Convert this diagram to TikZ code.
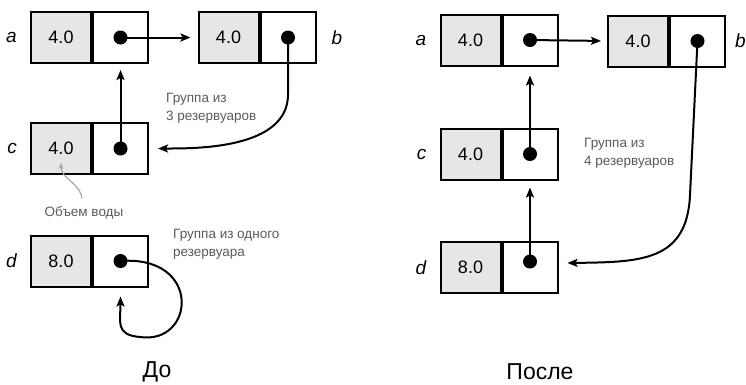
\documentclass[tikz,border=0pt]{standalone}
\usepackage{fontspec}
\setmainfont{Liberation Sans}
\usetikzlibrary{arrows.meta,positioning}
\definecolor{notegray}{HTML}{5A5A5A}
\definecolor{cellgray}{HTML}{E6E6E6}
\tikzset{
  cell/.style    = {draw, line width=2pt, minimum height=51pt, inner sep=0pt},
  valbox/.style  = {cell, fill=cellgray, minimum width=60pt,
                    font=\fontsize{18}{20}\selectfont},
  ptrbox/.style  = {cell, fill=white, minimum width=55pt},
  ptrdot/.style  = {circle, fill=black, inner sep=0pt, minimum size=14pt},
  tag/.style     = {font=\itshape\fontsize{19}{22}\selectfont, inner sep=0pt},
  note/.style    = {text=notegray, align=left, inner sep=0pt,
                    font=\fontsize{13.5}{18}\selectfont},
  caption/.style = {font=\fontsize{23}{26}\selectfont},
  link/.style    = {->, line width=2pt}
}

\begin{document}
\begin{tikzpicture}[x=1pt, y=-1pt,
  >={Stealth[length=10pt, width=8pt, inset=2pt]}]
\useasboundingbox (0,0) rectangle (746,384);

% before: four tanks
\node[valbox] (av1) at (61,37.5)  {4.0};
\node[valbox] (bv1) at (228.5,37.5) {4.0};
\node[valbox] (cv1) at (61,148.5) {4.0};
\node[valbox] (dv1) at (61,261)   {8.0};
\foreach \t in {a,b,c,d}
  \node[ptrbox, right=0pt of \t v1] (\t p1) {};

\node[tag, left=13pt of av1]  {a};
\node[tag, right=15pt of bp1] {b};
\node[tag, left=13pt of cv1]  {c};
\node[tag, left=13pt of dv1]  {d};

% after: same tanks, one group
\node[valbox] (av2) at (470.5,40) {4.0};
\node[valbox] (bv2) at (638,41)   {4.0};
\node[valbox] (cv2) at (470.5,154) {4.0};
\node[valbox] (dv2) at (470.5,267.5) {8.0};
\foreach \t in {a,b,c,d}
  \node[ptrbox, right=0pt of \t v2] (\t p2) {};

\node[tag, left=13pt of av2]  {a};
\node[tag, right=9pt of bp2]  {b};
\node[tag, left=13pt of cv2]  {c};
\node[tag, left=13pt of dv2]  {d};

% pointer dots
\foreach \t in {a,b,c,d}
  \node[ptrdot] (\t d1) at (\t p1) {};
\foreach \t in {a,b,c}
  \node[ptrdot] (\t d2) at (\t p2) {};
\node[ptrdot] (dd2) at ([yshift=6pt]dp2.center) {};

% links before
\draw[link, shorten >=7pt] (ad1.center) -- (bv1.west);
\draw[link, shorten >=6pt] (cd1.center) -- (ap1.south);
\draw[link] (bd1.center) -- ++(0,57) .. controls +(0,55) and +(36,0)
  .. ([xshift=9pt]cp1.east);
\draw[link] (dd1.center) .. controls +(82,-6) and +(55,8) .. (140,337)
  .. controls +(-25,-2) and +(0,25) .. ([yshift=-9pt]dp1.south);

% links after
\draw[link, shorten >=6pt] (ad2.center) -- (bv2.west);
\draw[link, shorten >=9pt] (cd2.center) -- (ap2.south);
\draw[link, shorten >=7pt] (dd2.center) -- (cp2.south);
\draw[link] (bd2.center) -- (690,195) .. controls (687,262) and (640,262)
  .. ([xshift=9pt,yshift=4.5pt]dp2.east);

% notes
\node[note, anchor=west] (grp3) at (166,108) {Группа из\\3 резервуаров};
\node[note, anchor=west] (grp1) at (173,244) {Группа из одного\\резервуара};
\node[note, anchor=west] (grp4) at (584,153.5) {Группа из\\4 резервуаров};
\node[note] (vol) at (84,213) {Объем воды};
\draw[->, line width=1.2pt, gray!70, >={Stealth[length=6pt, width=5pt]}]
  ([xshift=-2pt,yshift=8pt]vol.north) .. controls +(-2,-16) and +(0,16)
  .. ([yshift=12pt]cv1.south);

% captions
\node[caption] (before) at (157,372) {До};
\node[caption] (after)  at (540,372) {После};
\end{tikzpicture}
\end{document}
